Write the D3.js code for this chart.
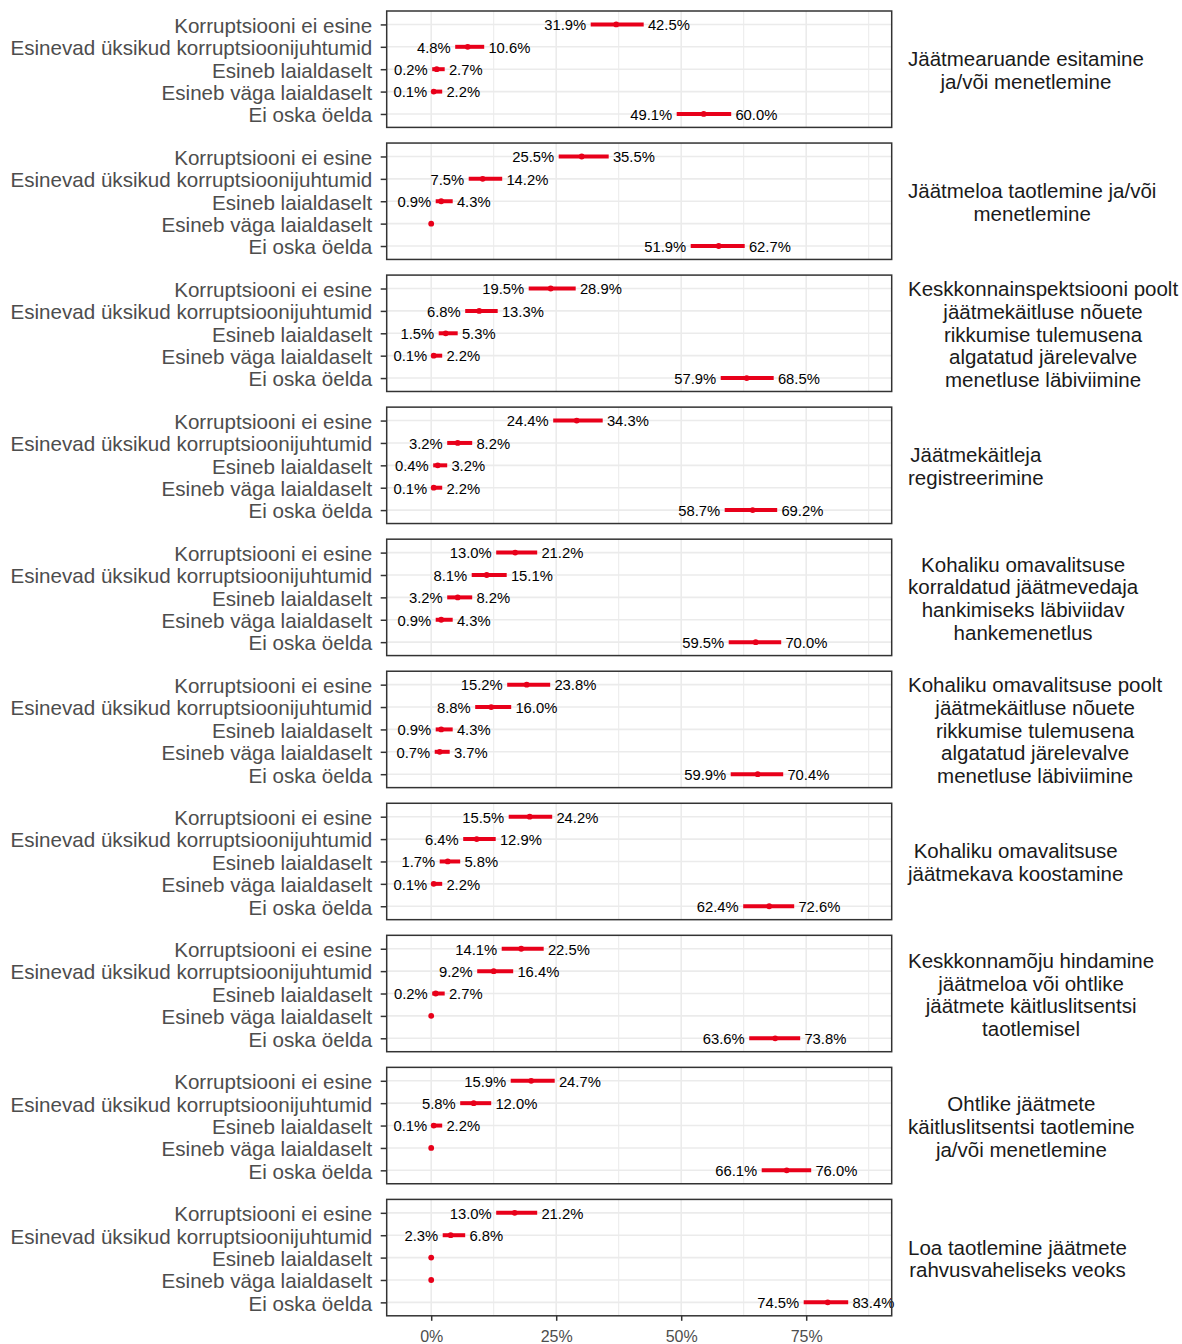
<!DOCTYPE html>
<html>
<head>
<meta charset="utf-8">
<script src="https://cdn.jsdelivr.net/npm/d3@7/dist/d3.min.js"></script>
<style>
  html, body { margin: 0; padding: 0; background: #fff; }
  svg { display: block; font-family: "Liberation Sans", Arial, sans-serif; }
</style>
</head>
<body>
<svg id="chart" width="1182" height="1344"></svg>
<script>
// ---------- DATA ----------
const categories = [
  "Korruptsiooni ei esine",
  "Esinevad üksikud korruptsioonijuhtumid",
  "Esineb laialdaselt",
  "Esineb väga laialdaselt",
  "Ei oska öelda"
];

const facets = [
  ["Jäätmearuande esitamine", "ja/või menetlemine"],
  ["Jäätmeloa taotlemine ja/või", "menetlemine"],
  ["Keskkonnainspektsiooni poolt", "jäätmekäitluse nõuete", "rikkumise tulemusena", "algatatud järelevalve", "menetluse läbiviimine"],
  ["Jäätmekäitleja", "registreerimine"],
  ["Kohaliku omavalitsuse", "korraldatud jäätmevedaja", "hankimiseks läbiviidav", "hankemenetlus"],
  ["Kohaliku omavalitsuse poolt", "jäätmekäitluse nõuete", "rikkumise tulemusena", "algatatud järelevalve", "menetluse läbiviimine"],
  ["Kohaliku omavalitsuse", "jäätmekava koostamine"],
  ["Keskkonnamõju hindamine", "jäätmeloa või ohtlike", "jäätmete käitluslitsentsi", "taotlemisel"],
  ["Ohtlike jäätmete", "käitluslitsentsi taotlemine", "ja/või menetlemine"],
  ["Loa taotlemine jäätmete", "rahvusvaheliseks veoks"]
];

// lower CI bound (%), one row per facet, in category order; null = no interval
const lower = [
  [31.9, 4.8, 0.2, 0.1, 49.1],
  [25.5, 7.5, 0.9, null, 51.9],
  [19.5, 6.8, 1.5, 0.1, 57.9],
  [24.4, 3.2, 0.4, 0.1, 58.7],
  [13.0, 8.1, 3.2, 0.9, 59.5],
  [15.2, 8.8, 0.9, 0.7, 59.9],
  [15.5, 6.4, 1.7, 0.1, 62.4],
  [14.1, 9.2, 0.2, null, 63.6],
  [15.9, 5.8, 0.1, null, 66.1],
  [13.0, 2.3, null, null, 74.5]
];

// upper CI bound (%)
const upper = [
  [42.5, 10.6, 2.7, 2.2, 60.0],
  [35.5, 14.2, 4.3, null, 62.7],
  [28.9, 13.3, 5.3, 2.2, 68.5],
  [34.3, 8.2, 3.2, 2.2, 69.2],
  [21.2, 15.1, 8.2, 4.3, 70.0],
  [23.8, 16.0, 4.3, 3.7, 70.4],
  [24.2, 12.9, 5.8, 2.2, 72.6],
  [22.5, 16.4, 2.7, null, 73.8],
  [24.7, 12.0, 2.2, null, 76.0],
  [21.2, 6.8, null, null, 83.4]
];

// point estimate (%)
const estimate = [
  [37.0, 7.3, 1.1, 0.5, 54.5],
  [30.1, 10.3, 2.0, 0.0, 57.5],
  [23.9, 9.6, 2.9, 0.5, 63.1],
  [29.1, 5.3, 1.3, 0.5, 64.3],
  [16.8, 11.1, 5.3, 2.0, 64.9],
  [19.1, 12.0, 2.0, 1.7, 65.3],
  [19.7, 9.1, 3.3, 0.5, 67.6],
  [18.0, 12.5, 0.9, 0.0, 68.8],
  [20.0, 8.5, 0.5, 0.0, 71.1],
  [16.7, 3.9, 0.0, 0.0, 79.3]
];

const xTicks = [0, 25, 50, 75];
const xMinorTicks = [12.5, 37.5, 62.5, 87.5];

// ---------- LAYOUT ----------
const RED = "#E8001A";
const svg = d3.select("#chart");

const panelLeft = 386.7, panelRight = 891.7;
const x = d3.scaleLinear().domain([-8.9, 92.1]).range([panelLeft, panelRight]);

const panelBand = d3.scaleBand()
  .domain(d3.range(facets.length))
  .range([11, 1315.8])
  .paddingInner(0.1185)
  .paddingOuter(0);

const ph = panelBand.bandwidth();
const y = d3.scalePoint().domain(categories).range([0, ph]).padding(0.6);

const fmt = v => v.toFixed(1) + "%";

facets.forEach((lines, fi) => {
  const g = svg.append("g").attr("transform", `translate(0,${panelBand(fi)})`);

  g.append("rect")
    .attr("x", panelLeft).attr("y", 0)
    .attr("width", panelRight - panelLeft).attr("height", ph)
    .attr("fill", "#fff");

  g.selectAll(".vminor").data(xMinorTicks).enter().append("line")
    .attr("x1", d => x(d)).attr("x2", d => x(d))
    .attr("y1", 0).attr("y2", ph)
    .attr("stroke", "#EBEBEB").attr("stroke-width", 1.0);

  g.selectAll(".vmajor").data(xTicks).enter().append("line")
    .attr("x1", d => x(d)).attr("x2", d => x(d))
    .attr("y1", 0).attr("y2", ph)
    .attr("stroke", "#EBEBEB").attr("stroke-width", 1.6);

  g.selectAll(".hmajor").data(categories).enter().append("line")
    .attr("x1", panelLeft).attr("x2", panelRight)
    .attr("y1", d => y(d)).attr("y2", d => y(d))
    .attr("stroke", "#EBEBEB").attr("stroke-width", 1.6);

  const rows = categories.map((c, ci) => ({
    cat: c, lo: lower[fi][ci], hi: upper[fi][ci], est: estimate[fi][ci]
  }));
  const withCI = rows.filter(r => r.lo !== null && r.hi !== null);

  g.selectAll(".ci").data(withCI).enter().append("line")
    .attr("x1", d => x(d.lo)).attr("x2", d => x(d.hi))
    .attr("y1", d => y(d.cat)).attr("y2", d => y(d.cat))
    .attr("stroke", RED).attr("stroke-width", 4);

  g.selectAll(".pt").data(rows).enter().append("circle")
    .attr("cx", d => x(d.est)).attr("cy", d => y(d.cat))
    .attr("r", 2.9).attr("fill", RED);

  g.selectAll(".lolab").data(withCI).enter().append("text")
    .attr("x", d => x(d.lo) - 4.5).attr("y", d => y(d.cat) + 0.5)
    .attr("dy", "0.36em")
    .attr("text-anchor", "end")
    .attr("font-size", 14.8).attr("fill", "#000")
    .text(d => fmt(d.lo));

  g.selectAll(".hilab").data(withCI).enter().append("text")
    .attr("x", d => x(d.hi) + 4.2).attr("y", d => y(d.cat) + 0.5)
    .attr("dy", "0.36em")
    .attr("text-anchor", "start")
    .attr("font-size", 14.8).attr("fill", "#000")
    .text(d => fmt(d.hi));

  const ax = g.append("g")
    .attr("transform", `translate(${panelLeft},0)`)
    .call(d3.axisLeft(y).tickSize(6).tickPadding(8.5));
  ax.select(".domain").remove();
  ax.selectAll(".tick line").attr("stroke", "#333333").attr("stroke-width", 1.5);
  ax.selectAll(".tick text")
    .attr("font-size", 20.6).attr("fill", "#4D4D4D")
    .attr("dy", "0.38em")
    .attr("font-family", "'Liberation Sans', Arial, sans-serif");

  g.append("rect")
    .attr("x", panelLeft).attr("y", 0)
    .attr("width", panelRight - panelLeft).attr("height", ph)
    .attr("fill", "none").attr("stroke", "#333333").attr("stroke-width", 1.5);

  const lh = 22.7;
  const st = g.append("text")
    .attr("font-size", 20.5).attr("fill", "#1A1A1A")
    .attr("text-anchor", "middle");
  const tspans = st.selectAll("tspan").data(lines).enter().append("tspan")
    .attr("y", (d, i) => ph / 2 + 1 + (i - (lines.length - 1) / 2) * lh)
    .attr("dy", "0.36em")
    .text(d => d);
  let maxW = 0;
  tspans.each(function () { maxW = Math.max(maxW, this.getComputedTextLength()); });
  tspans.attr("x", 908 + maxW / 2);

  if (fi === facets.length - 1) {
    const bx = g.append("g")
      .attr("transform", `translate(0,${ph})`)
      .call(d3.axisBottom(x).tickValues(xTicks).tickFormat(d => d + "%").tickSize(5).tickPadding(10));
    bx.select(".domain").remove();
    bx.selectAll(".tick line").attr("stroke", "#333333").attr("stroke-width", 1.5);
    bx.selectAll(".tick text")
      .attr("font-size", 16).attr("fill", "#4D4D4D")
      .attr("font-family", "'Liberation Sans', Arial, sans-serif");
  }
});
</script>
</body>
</html>
